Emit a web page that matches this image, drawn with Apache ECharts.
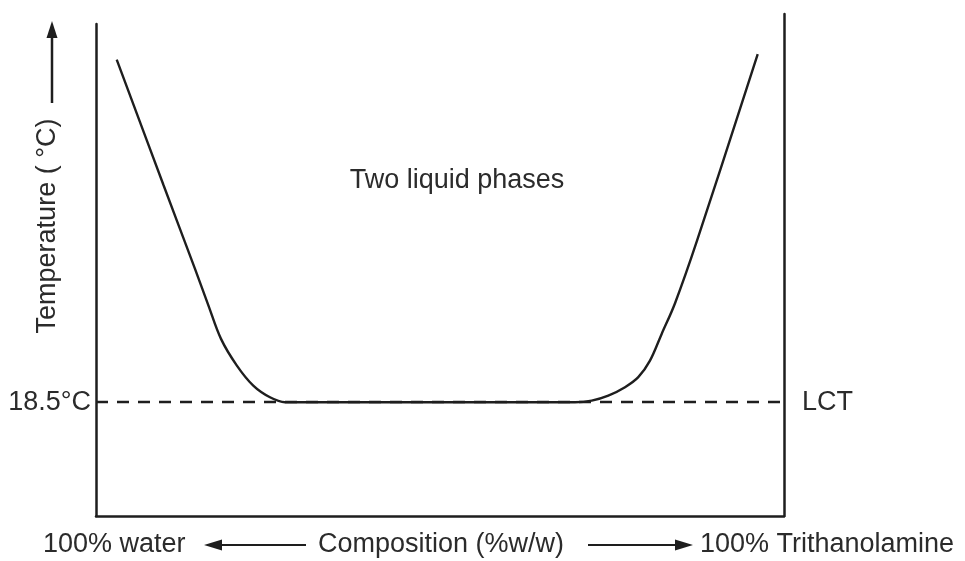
<!DOCTYPE html>
<html>
<head>
<meta charset="utf-8">
<script src="https://cdn.jsdelivr.net/npm/echarts@6/dist/echarts.min.js"></script>
<style>
  html, body { margin: 0; padding: 0; background: #ffffff; }
  #chart { width: 965px; height: 561px; }
</style>
</head>
<body>
<div id="chart"></div>
<script>
// Miscibility curve of water / triethanolamine (composition %w/w vs temperature °C)
const compositionPct = [3.01, 9.78, 14.35, 16.32, 18.17, 20.45, 22.86, 25.29, 27.47, 69.62, 72.05, 74.46, 76.89, 78.82, 80.52, 82.22, 84.16, 87.31, 96.18];
const temperatureC   = [74.2, 53.9, 40.3, 34.3, 28.8, 24.5, 21.2, 19.3, 18.5, 18.5, 18.76, 19.57, 20.94, 22.57, 25.26, 29.61, 34.6, 44.6, 75.1];
const lctValue = 18.5;
const lctName = 'LCT';
const regionLabel = 'Two liquid phases';
const yTitle = 'Temperature ( °C)';
const xLeftLabel = '100% water';
const xTitle = 'Composition (%w/w)';
const xRightLabel = '100% Trithanolamine';

const tempMin = 0, tempMax = 80;
const FONT = '"Liberation Sans", Arial, Helvetica, sans-serif';
const FS = 27;
const INK = '#1e1e1e';
const TEXT = '#2b2b2b';

const chart = echarts.init(document.getElementById('chart'), null, { renderer: 'canvas' });

// Second grid only carries the taller right-hand frame line; its range keeps the same px/°C scale
const grid0 = { left: 96, right: 181, top: 24, bottom: 45 };
const grid1 = { left: 96, right: 181, top: 14, bottom: 45 };
const h0 = 561 - grid0.top - grid0.bottom;
const h1 = 561 - grid1.top - grid1.bottom;
const tempMax1 = tempMin + (tempMax - tempMin) * h1 / h0;

const pts = compositionPct.map((x, i) => [x, temperatureC[i]]);

const option = {
  backgroundColor: '#ffffff',
  animation: false,
  grid: [grid0, grid1],
  xAxis: [
    {
      gridIndex: 0, type: 'value', min: 0, max: 100,
      axisLine: { show: true, lineStyle: { color: INK, width: 2.5 } },
      axisTick: { show: false }, axisLabel: { show: false }, splitLine: { show: false }
    },
    {
      gridIndex: 1, type: 'value', min: 0, max: 100, show: false
    }
  ],
  yAxis: [
    {
      gridIndex: 0, type: 'value', min: tempMin, max: tempMax,
      axisLine: { show: true, lineStyle: { color: INK, width: 2.5 } },
      axisTick: { show: false },
      splitLine: { show: false },
      axisLabel: {
        customValues: [lctValue],
        formatter: v => v + '°C',
        color: TEXT, fontFamily: FONT, fontSize: FS, margin: 5
      }
    },
    {
      gridIndex: 1, type: 'value', position: 'right', min: tempMin, max: tempMax1,
      axisLine: { show: true, onZero: false, lineStyle: { color: INK, width: 2.5 } },
      axisTick: { show: false },
      splitLine: { show: false },
      axisLabel: {
        customValues: [lctValue],
        formatter: () => lctName,
        color: TEXT, fontFamily: FONT, fontSize: FS, margin: 18
      }
    }
  ],
  series: [
    {
      type: 'line',
      xAxisIndex: 0, yAxisIndex: 0,
      data: pts,
      smooth: 0.35,
      showSymbol: false,
      lineStyle: { color: INK, width: 2.4 },
      markLine: {
        silent: true,
        symbol: ['none', 'none'],
        label: { show: false },
        lineStyle: { color: INK, width: 2.4, type: [12, 9] },
        data: [{ yAxis: lctValue }]
      },
      z: 3
    }
  ],
  graphic: [
    // vertical arrow above the temperature title
    { type: 'line', shape: { x1: 52, y1: 103, x2: 52, y2: 34 }, style: { stroke: INK, lineWidth: 2.5 } },
    { type: 'polygon', shape: { points: [[52, 21], [46.5, 38], [57.5, 38]] }, style: { fill: INK } },
    // horizontal arrows either side of the composition title
    { type: 'line', shape: { x1: 306, y1: 545, x2: 218, y2: 545 }, style: { stroke: INK, lineWidth: 2.2 } },
    { type: 'polygon', shape: { points: [[204, 545], [222, 539.5], [222, 550.5]] }, style: { fill: INK } },
    { type: 'line', shape: { x1: 588, y1: 545, x2: 678, y2: 545 }, style: { stroke: INK, lineWidth: 2.2 } },
    { type: 'polygon', shape: { points: [[693, 545], [675, 539.5], [675, 550.5]] }, style: { fill: INK } },
    // texts
    {
      type: 'text', x: 48, y: 226, rotation: Math.PI / 2,
      style: { text: yTitle, fill: TEXT, font: FS + 'px ' + FONT, align: 'center', verticalAlign: 'middle' }
    },
    {
      type: 'text', x: 457, y: 181,
      style: { text: regionLabel, fill: TEXT, font: FS + 'px ' + FONT, align: 'center', verticalAlign: 'middle' }
    },
    {
      type: 'text', x: 43, y: 545,
      style: { text: xLeftLabel, fill: TEXT, font: FS + 'px ' + FONT, align: 'left', verticalAlign: 'middle' }
    },
    {
      type: 'text', x: 318, y: 545,
      style: { text: xTitle, fill: TEXT, font: FS + 'px ' + FONT, align: 'left', verticalAlign: 'middle' }
    },
    {
      type: 'text', x: 700, y: 545,
      style: { text: xRightLabel, fill: TEXT, font: FS + 'px ' + FONT, align: 'left', verticalAlign: 'middle' }
    }
  ]
};

chart.setOption(option);
</script>
</body>
</html>
